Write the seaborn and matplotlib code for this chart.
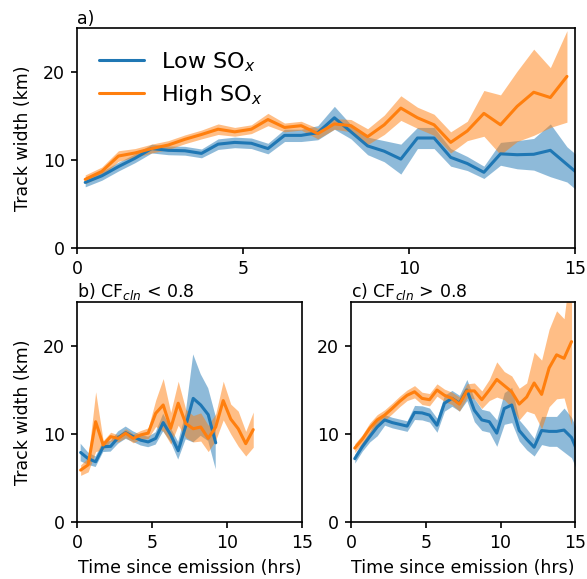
import numpy as np
import pandas as pd
import matplotlib
matplotlib.use("Agg")
import matplotlib.pyplot as plt
import seaborn as sns

sns.set_style("ticks")
plt.rcParams["font.family"] = ["DejaVu Sans"]
plt.rcParams.update({"text.color": "black", "axes.labelcolor": "black",
                     "xtick.color": "black", "ytick.color": "black"})

# --- datos (tiempo en horas, ancho en km) ---
# panel a) todos los casos
low_a = [7.45, 8.2, 9.25, 10.2, 11.3, 11.1, 11.05, 10.75, 11.8, 12.0, 11.9, 11.3, 12.8, 12.8, 13.1,
         14.8, 13.2, 11.6, 11.0, 10.1, 12.5, 12.5, 10.3, 9.6, 8.6, 10.7, 10.6, 10.65, 11.1, 9.5, 7.9]
low_a_err = [0.5, 0.5, 0.5, 0.5, 0.5, 0.5, 0.5, 0.5, 0.6, 0.6, 0.6, 0.6, 0.7, 0.7, 0.8,
             1.3, 0.8, 1.0, 1.2, 1.7, 1.2, 1.2, 1.0, 0.8, 0.7, 1.3, 1.6, 1.8, 3.0, 2.0, 2.0]
high_a = [7.8, 8.7, 10.45, 10.8, 11.3, 11.7, 12.35, 12.9, 13.5, 13.2, 13.5, 14.6, 13.7, 13.9, 13.0,
          14.1, 13.9, 12.65, 14.0, 15.9, 14.8, 14.0, 12.0, 13.3, 15.3, 14.0, 16.1, 17.7, 17.1, 19.5]
high_a_err = [0.5, 0.5, 0.6, 0.5, 0.5, 0.5, 0.5, 0.5, 0.6, 0.5, 0.5, 0.7, 0.5, 0.5, 0.6,
              0.6, 0.7, 0.9, 1.1, 1.4, 1.2, 1.2, 1.2, 1.1, 2.6, 3.4, 4.0, 4.9, 3.4, 5.2]

# panel b) CF_cln < 0.8
low_b = [7.9, 7.2, 6.85, 8.55, 8.6, 9.6, 10.15, 9.7, 9.3, 9.1, 9.5, 11.3, 9.9, 8.1, 10.9,
         14.05, 13.3, 12.2, 9.0, np.nan, 9.2]
low_b_err = [1.0, 0.7, 0.6, 0.6, 0.6, 0.7, 0.7, 0.6, 0.6, 0.6, 0.7, 1.0, 0.8, 1.0, 1.5,
             5.0, 3.5, 3.0, 3.0, np.nan, 1.6]
high_b = [5.9, 6.5, 11.4, 8.75, 9.7, 9.5, 10.1, 9.5, 9.9, 10.1, 12.35, 13.3, 10.65, 13.5, 11.2,
          10.6, 10.8, 9.5, 10.8, 13.8, 11.7, 10.6, 8.9, 10.5]
high_b_err = [0.6, 0.8, 3.4, 0.5, 0.5, 0.4, 0.5, 0.5, 0.5, 0.6, 1.5, 3.0, 1.8, 2.5, 1.6,
              1.5, 1.6, 1.5, 1.5, 2.2, 1.7, 2.0, 1.4, 2.0]

# panel c) CF_cln > 0.8
low_c = [7.2, 8.55, 9.7, 10.8, 11.6, 11.3, 11.1, 10.9, 12.45, 12.4, 12.15, 11.0, 13.5, 14.05, 13.5,
         15.0, 12.7, 11.6, 11.4, 10.1, 12.9, 13.3, 10.4, 9.4, 8.5, 10.4, 10.3, 10.3, 10.45, 9.6, 7.6]
low_c_err = [0.5, 0.5, 0.6, 1.0, 0.6, 0.6, 0.6, 0.6, 0.8, 0.8, 0.8, 0.8, 0.9, 0.9, 0.9,
             1.2, 1.3, 1.2, 1.2, 1.5, 1.8, 2.0, 1.2, 1.2, 1.0, 1.6, 1.7, 1.7, 2.5, 2.3, 2.3]
high_c = [8.4, 9.4, 10.65, 11.6, 12.15, 12.9, 13.7, 14.4, 14.8, 14.05, 13.9, 15.0, 14.4, 14.05, 13.4,
          14.9, 14.9, 13.9, 15.0, 16.2, 15.5, 14.8, 13.4, 14.2, 15.8, 14.5, 17.5, 19.0, 18.6, 20.5]
high_c_err = [0.5, 0.5, 0.6, 0.6, 0.6, 0.6, 0.6, 0.6, 0.7, 0.7, 0.7, 0.7, 0.7, 0.7, 0.8,
              0.8, 0.9, 1.0, 1.2, 2.0, 1.6, 1.8, 1.8, 1.6, 3.5, 3.9, 4.4, 5.0, 4.5, 9.5]

labels = ["Low SO$_x$", "High SO$_x$"]
colors = ["tab:blue", "tab:orange"]
FS = 12.5


def times(vals):
    # centros de bins de media hora
    return 0.25 + 0.5 * np.arange(len(vals))


def draw(ax, series):
    for (mean, err), lab, col in zip(series, labels, colors):
        t = times(mean)
        m = np.array(mean, dtype=float)
        e = np.array(err, dtype=float)
        ax.fill_between(t, m - e, m + e, color=col, alpha=0.5, linewidth=0)
        ok = ~np.isnan(m)
        # solo la parte continua de la serie lleva línea
        last = np.argmax(~ok) if (~ok).any() else len(m)
        sns.lineplot(x=t[:last], y=m[:last], ax=ax, color=col, linewidth=2.2, label=lab)
    ax.set_xlim(0, 15)
    ax.set_ylim(0, 25)
    ax.set_xticks([0, 5, 10, 15])
    ax.set_yticks([0, 10, 20])
    ax.tick_params(labelsize=FS, width=1.2, length=4.5, pad=4)
    for s in ax.spines.values():
        s.set_linewidth(1.2)
        s.set_color("black")


fig = plt.figure(figsize=(5.87, 5.79), dpi=100)
ax_a = fig.add_axes([0.131, 0.5717, 0.849, 0.3799])
ax_b = fig.add_axes([0.131, 0.0984, 0.3835, 0.38])
ax_c = fig.add_axes([0.598, 0.0984, 0.382, 0.38])

draw(ax_a, [(low_a, low_a_err), (high_a, high_a_err)])
draw(ax_b, [(low_b, low_b_err), (high_b, high_b_err)])
draw(ax_c, [(low_c, low_c_err), (high_c, high_c_err)])

ax_a.legend(loc="upper left", fontsize=16, frameon=False, handlelength=2.0,
            borderaxespad=0.6, labelspacing=0.4)
ax_b.get_legend().remove()
ax_c.get_legend().remove()

ax_a.set_title("a)", loc="left", fontsize=FS, pad=1)
ax_b.set_title("b) CF$_{cln}$ < 0.8", loc="left", fontsize=FS, pad=3)
ax_c.set_title("c) CF$_{cln}$ > 0.8", loc="left", fontsize=FS, pad=3)

ax_a.set_ylabel("Track width (km)", fontsize=FS, labelpad=8)
ax_b.set_ylabel("Track width (km)", fontsize=FS, labelpad=8)
ax_c.set_ylabel("")
ax_b.set_xlabel("Time since emission (hrs)", fontsize=FS, labelpad=5)
ax_c.set_xlabel("Time since emission (hrs)", fontsize=FS, labelpad=5)

fig.savefig("out.png", dpi=100)
